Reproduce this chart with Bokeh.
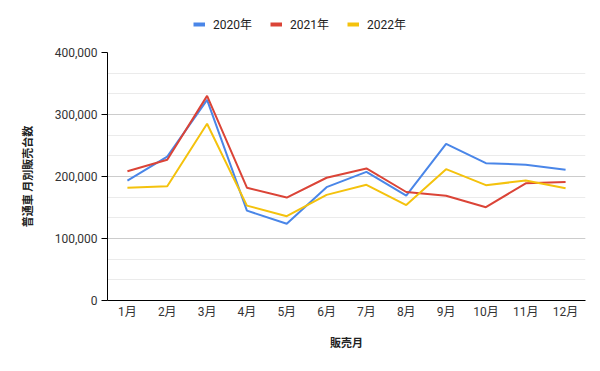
from bokeh.plotting import figure
from bokeh.layouts import column
from bokeh.models import Legend, LegendItem, NumeralTickFormatter, SingleIntervalTicker, Range1d
from bokeh.embed import file_html
from bokeh.resources import INLINE

months = ["1月", "2月", "3月", "4月", "5月", "6月", "7月", "8月", "9月", "10月", "11月", "12月"]
sales_2020 = [193500, 232000, 323500, 145000, 123700, 182800, 207500, 169000, 252700, 221500, 219000, 210800]
sales_2021 = [208600, 227000, 330000, 182000, 166000, 198000, 213000, 175000, 169000, 150500, 189000, 191000]
sales_2022 = [181700, 184400, 285000, 153000, 136000, 170400, 186600, 154000, 211800, 186000, 193500, 181000]
series_names = ["2020年", "2021年", "2022年"]
colors = ["#4a86e8", "#db4437", "#f4c20d"]
all_series = [sales_2020, sales_2021, sales_2022]

FONT = "Roboto, 'Noto Sans CJK JP', sans-serif"
JFONT = "'Noto Sans CJK JP', Roboto, sans-serif"

# legend strip on top (series drawn outside its visible range, only the legend shows)
lf = figure(width=598, height=40, x_range=months, y_range=Range1d(-2, -1),
            output_backend="svg", toolbar_location=None, min_border=0)
lf.axis.visible = False
lf.grid.visible = False
lf.outline_line_color = None
legend_rs = [lf.line(months, vals, line_color=c, line_width=4) for vals, c in zip(all_series, colors)]
legend = Legend(items=[LegendItem(label=n, renderers=[r]) for n, r in zip(series_names, legend_rs)],
                orientation="horizontal", location=(86, 8), border_line_color=None,
                background_fill_alpha=0, label_text_font=FONT, label_text_font_size="12px",
                label_text_color="#222222", glyph_width=12, glyph_height=10, spacing=18,
                label_standoff=8, padding=0, margin=0)
lf.add_layout(legend, "center")

p = figure(x_range=months, y_range=Range1d(0, 400000), output_backend="svg", toolbar_location=None,
           frame_width=478, frame_height=248, width=598, height=329,
           min_border_left=107, min_border_right=13, min_border_top=12, min_border_bottom=69)
p.outline_line_color = None
p.background_fill_color = "white"

for vals, c in zip(all_series, colors):
    p.line(months, vals, line_color=c, line_width=2)

p.yaxis.ticker = SingleIntervalTicker(interval=100000, num_minor_ticks=3)
p.yaxis.formatter = NumeralTickFormatter(format="0,0")
p.yaxis.major_tick_out = 6
p.yaxis.major_tick_in = 0
p.yaxis.minor_tick_out = 0
p.yaxis.minor_tick_in = 0
p.yaxis.axis_line_color = "black"
p.yaxis.major_tick_line_color = "black"
p.yaxis.major_label_text_font = FONT
p.yaxis.major_label_text_font_size = "12px"
p.yaxis.major_label_text_color = "#333333"
p.yaxis.major_label_standoff = 4
p.yaxis.axis_label = "普通車 月別販売台数"
p.yaxis.axis_label_text_font = JFONT
p.yaxis.axis_label_text_font_style = "bold"
p.yaxis.axis_label_text_font_size = "11px"
p.yaxis.axis_label_text_color = "#222222"
p.yaxis.axis_label_standoff = 17

p.xaxis.major_tick_line_color = None
p.xaxis.minor_tick_line_color = None
p.xaxis.axis_line_color = "black"
p.xaxis.major_label_text_font = FONT
p.xaxis.major_label_text_font_size = "12px"
p.xaxis.major_label_text_color = "#333333"
p.xaxis.major_label_standoff = -2
p.xaxis.axis_label = "販売月"
p.xaxis.axis_label_text_font = JFONT
p.xaxis.axis_label_text_font_style = "bold"
p.xaxis.axis_label_text_font_size = "11px"
p.xaxis.axis_label_text_color = "#222222"
p.xaxis.axis_label_standoff = 12

p.xgrid.grid_line_color = None
p.ygrid.grid_line_color = "#cccccc"
p.ygrid.minor_grid_line_color = "#ebebeb"

open("out.html", "w").write(file_html(column(lf, p, spacing=0), INLINE))
